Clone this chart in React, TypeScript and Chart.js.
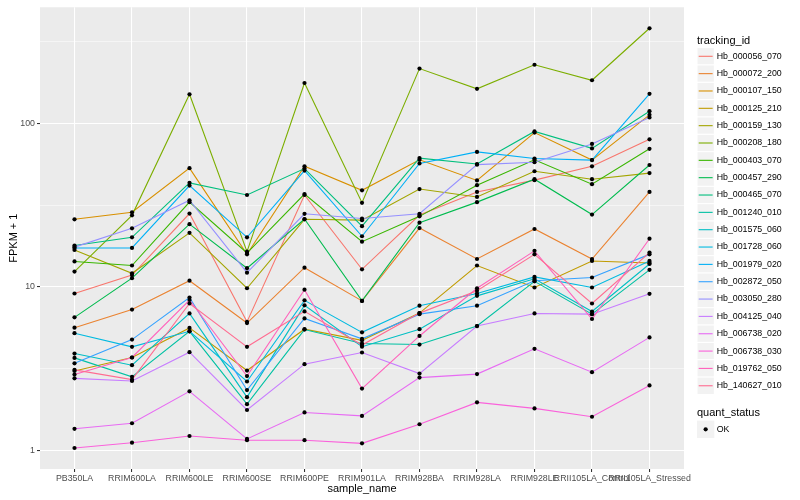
import React, { useEffect, useRef } from "react";
import { Chart, registerables } from "chart.js";

Chart.register(...registerables);

const FONT = '"Liberation Sans", Arial, Helvetica, sans-serif';

const sampleNames = [
  "PB350LA", "RRIM600LA", "RRIM600LE", "RRIM600SE", "RRIM600PE", "RRIM901LA",
  "RRIM928BA", "RRIM928LA", "RRIM928LE", "RRII105LA_Control", "RRII105LA_Stressed",
];

const trackingIds = [
  "Hb_000056_070", "Hb_000072_200", "Hb_000107_150", "Hb_000125_210", "Hb_000159_130",
  "Hb_000208_180", "Hb_000403_070", "Hb_000457_290", "Hb_000465_070", "Hb_001240_010",
  "Hb_001575_060", "Hb_001728_060", "Hb_001979_020", "Hb_002872_050", "Hb_003050_280",
  "Hb_004125_040", "Hb_006738_020", "Hb_006738_030", "Hb_019762_050", "Hb_140627_010",
];

const seriesColors = [
  "#F8766D", "#EA8331", "#D89000", "#C09B00", "#A3A500", "#7CAE00", "#39B600", "#00BB4E",
  "#00BF7D", "#00C1A3", "#00BFC4", "#00BAE0", "#00B0F6", "#35A2FF", "#9590FF", "#C77CFF",
  "#E76BF3", "#FA62DB", "#FF62BC", "#FF6C91",
];

// FPKM + 1 values per sample (same order as sampleNames)
const hb000056_070 = [9.1, 11.8, 28.1, 6.1, 36.5, 12.8, 27.5, 38.1, 45, 54.7, 80];
const hb000072_200 = [5.62, 7.25, 10.9, 6.0, 13.1, 8.2, 22.9, 14.8, 22.6, 14.8, 38.1];
const hb000107_150 = [25.9, 28.6, 53.3, 15.8, 54.7, 39, 60, 44.8, 88, 59.7, 113];
const hb000125_210 = [3.05, 3.69, 5.6, 3.07, 5.5, 4.7, 6.9, 13.5, 9.9, 14.4, 14.0];
const hb000159_130 = [16.8, 12.1, 21.4, 9.8, 25.9, 25.6, 39.7, 35.5, 51, 45.6, 49.7];
const hb000208_180 = [12.4, 27.4, 151, 16.4, 177, 32.7, 217, 163, 229, 184, 383];
const hb000403_070 = [14.3, 13.5, 33, 16.1, 37, 18.9, 27, 41.9, 60, 42.5, 70];
const hb000457_290 = [6.5, 11.3, 24.2, 13, 26, 8.2, 24.7, 33, 45.6, 27.7, 55.7];
const hb000465_070 = [17.9, 20.1, 43.3, 36.5, 53, 23.5, 61.4, 56.5, 89.4, 70.4, 119];
const hb001240_010 = [3.67, 2.81, 5.34, 1.91, 5.47, 4.5, 4.43, 5.75, 10.8, 6.8, 12.7];
const hb001575_060 = [3.9, 3.31, 6.87, 2.11, 7.7, 4.3, 5.5, 8.8, 11.2, 7.06, 13.8];
const hb001728_060 = [5.2, 4.29, 5.34, 2.63, 8.26, 5.26, 7.66, 9.1, 11.5, 9.9, 14.4];
const hb001979_020 = [17.3, 17.3, 41.7, 20.1, 51.5, 20.4, 57, 67, 61, 59.7, 152];
const hb002872_050 = [3.4, 4.75, 8.6, 2.33, 6.4, 4.8, 6.8, 7.66, 10.9, 11.4, 15.8];
const hb003050_280 = [17.5, 22.8, 33.9, 12.2, 28, 26.2, 28, 56, 57.9, 75, 109];
const hb004125_040 = [2.75, 2.65, 3.98, 1.76, 3.36, 3.96, 2.94, 5.75, 6.87, 6.8, 9.06];
const hb006738_020 = [1.35, 1.46, 2.29, 1.17, 1.7, 1.62, 2.78, 2.92, 4.17, 3.0, 4.9];
const hb006738_030 = [1.03, 1.11, 1.22, 1.15, 1.15, 1.1, 1.44, 1.96, 1.8, 1.6, 2.49];
const hb019762_050 = [2.9, 3.69, 8.3, 2.84, 9.6, 2.38, 5.0, 9.8, 16.6, 6.35, 19.7];
const hb140627_010 = [3.1, 2.7, 7.9, 4.29, 7.07, 4.4, 6.9, 9.45, 15.8, 7.9, 16.2];

const seriesValues = [
  hb000056_070, hb000072_200, hb000107_150, hb000125_210, hb000159_130,
  hb000208_180, hb000403_070, hb000457_290, hb000465_070, hb001240_010,
  hb001575_060, hb001728_060, hb001979_020, hb002872_050, hb003050_280,
  hb004125_040, hb006738_020, hb006738_030, hb019762_050, hb140627_010,
];

const yBreaks = [1, 3.1623, 10, 31.623, 100, 316.23];
const yMajorLabels = ["1", "", "10", "", "100", ""];
const yMin = 0.766;
const yMax = 515;

const ggPlugin = {
  id: "ggTheme",
  beforeDraw(chart: any) {
    const { ctx, chartArea: a } = chart;
    ctx.save();
    ctx.fillStyle = "#FFFFFF";
    ctx.fillRect(0, 0, chart.width, chart.height);
    ctx.fillStyle = "#EBEBEB";
    ctx.fillRect(a.left, a.top, a.right - a.left, a.bottom - a.top);
    ctx.restore();
  },
  afterDraw(chart: any) {
    const { ctx, chartArea: a } = chart;
    ctx.save();
    ctx.fillStyle = "#000000";
    ctx.font = `11px ${FONT}`;
    ctx.textAlign = "center";
    ctx.textBaseline = "middle";
    ctx.fillText("sample_name", (a.left + a.right) / 2, 489);
    ctx.save();
    ctx.translate(13.5, (a.top + a.bottom) / 2);
    ctx.rotate(-Math.PI / 2);
    ctx.fillText("FPKM + 1", 0, 0);
    ctx.restore();

    // legend: tracking_id
    const lx = 697;
    const key = 17.34;
    ctx.textAlign = "left";
    ctx.font = `11px ${FONT}`;
    ctx.fillStyle = "#000000";
    ctx.fillText("tracking_id", lx, 40.7);
    trackingIds.forEach((id, i) => {
      const cy = 56.3 + i * key;
      ctx.fillStyle = "#F2F2F2";
      ctx.fillRect(lx, cy - key / 2, key, key);
      ctx.strokeStyle = "#FFFFFF";
      ctx.lineWidth = 1;
      ctx.strokeRect(lx, cy - key / 2, key, key);
      ctx.strokeStyle = seriesColors[i];
      ctx.lineWidth = 1.1;
      ctx.beginPath();
      ctx.moveTo(lx + 1.7, cy);
      ctx.lineTo(lx + key - 1.7, cy);
      ctx.stroke();
      ctx.fillStyle = "#000000";
      ctx.font = `8.8px ${FONT}`;
      ctx.fillText(id, lx + 19.7, cy);
    });

    // legend: quant_status
    ctx.font = `11px ${FONT}`;
    ctx.fillStyle = "#000000";
    ctx.fillText("quant_status", lx, 413.3);
    const oy = 429.3;
    ctx.fillStyle = "#F2F2F2";
    ctx.fillRect(lx, oy - key / 2, key, key);
    ctx.fillStyle = "#000000";
    ctx.beginPath();
    ctx.arc(lx + key / 2, oy, 2.1, 0, Math.PI * 2);
    ctx.fill();
    ctx.font = `8.8px ${FONT}`;
    ctx.fillText("OK", lx + 19.7, oy);
    ctx.restore();
  },
};

export default function App() {
  const canvasRef = useRef<HTMLCanvasElement | null>(null);

  useEffect(() => {
    const canvas = canvasRef.current;
    if (!canvas) return;

    const lineSets = seriesValues.map((vals, i) => ({
      label: trackingIds[i],
      data: vals.map((v, j) => ({ x: j, y: v })),
      borderColor: seriesColors[i],
      backgroundColor: seriesColors[i],
      borderWidth: 1.1,
      pointRadius: 0,
      pointHoverRadius: 0,
      tension: 0,
      fill: false,
      order: 20 - i,
    }));

    const pointSet = {
      label: "OK",
      data: seriesValues.flatMap((vals) => vals.map((v, j) => ({ x: j, y: v }))),
      showLine: false,
      borderColor: "#000000",
      backgroundColor: "#000000",
      pointBackgroundColor: "#000000",
      pointBorderWidth: 0,
      pointRadius: 2.1,
      pointHoverRadius: 2.1,
      order: 0,
    };

    const chart = new Chart(canvas, {
      type: "line",
      data: { datasets: [...lineSets, pointSet] as any },
      plugins: [ggPlugin],
      options: {
        animation: false,
        responsive: false,
        devicePixelRatio: 1,
        layout: { padding: { left: 0, top: 5, right: 116, bottom: 0 } },
        plugins: { legend: { display: false }, tooltip: { enabled: false } },
        scales: {
          x: {
            type: "linear",
            min: -0.6,
            max: 10.6,
            bounds: "data",
            afterBuildTicks: (scale: any) => {
              scale.ticks = sampleNames.map((_, i) => ({ value: i }));
            },
            afterFit: (scale: any) => {
              scale.height = 31;
            },
            ticks: {
              autoSkip: false,
              maxRotation: 0,
              minRotation: 0,
              padding: 1,
              color: "#4D4D4D",
              font: { family: FONT, size: 8.8 },
              callback: (_v: any, index: number) => sampleNames[index],
            },
            grid: {
              color: "#FFFFFF",
              lineWidth: 1.07,
              tickLength: 3,
              tickColor: "#333333",
              tickWidth: 1.07,
            },
            border: { display: false },
          },
          y: {
            type: "logarithmic",
            min: yMin,
            max: yMax,
            bounds: "data",
            afterBuildTicks: (scale: any) => {
              scale.ticks = yBreaks.map((v) => ({ value: v }));
            },
            afterFit: (scale: any) => {
              scale.width = 40;
            },
            ticks: {
              autoSkip: false,
              padding: 2,
              color: "#4D4D4D",
              font: { family: FONT, size: 8.8 },
              callback: (_v: any, index: number) => yMajorLabels[index],
            },
            grid: {
              color: "#FFFFFF",
              lineWidth: (c: any) => (c.index % 2 === 0 ? 1.07 : 0.53),
              tickLength: 3,
              tickColor: (c: any) => (c.index % 2 === 0 ? "#333333" : "rgba(0,0,0,0)"),
              tickWidth: 1.07,
            },
            border: { display: false },
          },
        },
      } as any,
    });

    return () => chart.destroy();
  }, []);

  return (
    <div style={{ position: "absolute", left: 0, top: 0, width: 800, height: 500, background: "#FFFFFF" }}>
      <canvas ref={canvasRef} width={800} height={500} style={{ width: 800, height: 500, display: "block" }} />
    </div>
  );
}
